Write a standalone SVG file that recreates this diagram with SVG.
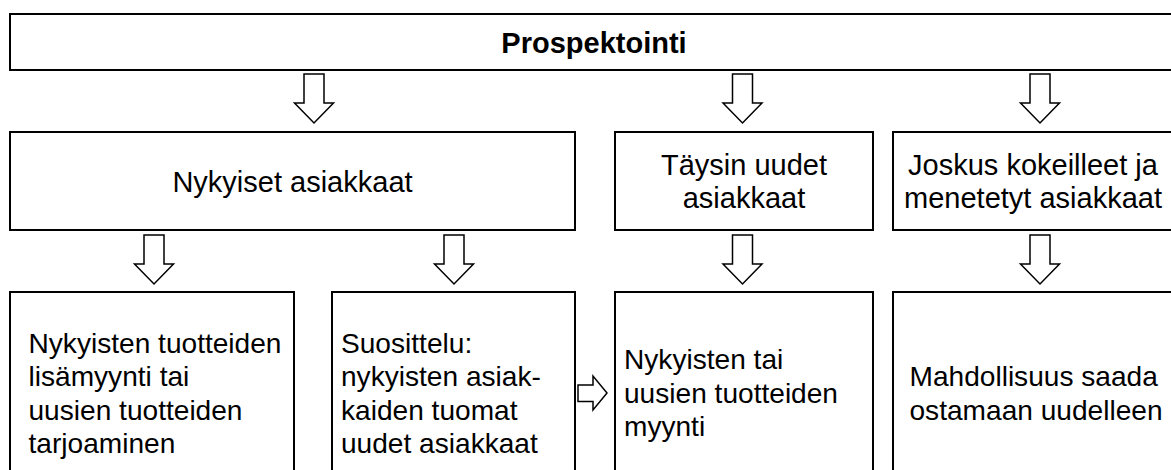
<svg xmlns="http://www.w3.org/2000/svg" width="1171" height="470" viewBox="0 0 1171 470">
<style>
.box{fill:#fff;stroke:#000;stroke-width:2}
.arr{fill:#fff;stroke:#000;stroke-width:1.5;stroke-linejoin:miter}
text{font-family:"Liberation Sans",Arial,sans-serif;font-size:29px;fill:#000}
.s{font-size:28.1px}
.c{text-anchor:middle}
.b{font-weight:bold}
</style>
<defs>
<path id="down" d="M-10,0 L10,0 L10,29 L19.5,29 L0,49 L-19.5,29 L-10,29 Z"/>
</defs>
<rect width="1171" height="470" fill="#fff"/>
<g id="n-prospektointi">
<rect class="box" x="10" y="14" width="1170" height="56"/>
<text class="c b" x="594" y="52.5">Prospektointi</text>
</g>
<g id="n-nykyiset">
<rect class="box" x="10" y="132" width="565" height="98"/>
<text class="c" x="292.5" y="191.5">Nykyiset asiakkaat</text>
</g>
<g id="n-taysin">
<rect class="box" x="615" y="132" width="258" height="98"/>
<text class="c" x="744" y="174.5">Täysin uudet</text>
<text class="c" x="744" y="208">asiakkaat</text>
</g>
<g id="n-joskus">
<rect class="box" x="893" y="132" width="282" height="98"/>
<text class="c" x="1033" y="174.5">Joskus kokeilleet ja</text>
<text class="c" x="1033" y="208">menetetyt asiakkaat</text>
</g>
<g id="n-lisamyynti">
<rect class="box" x="10" y="292" width="284" height="200"/>
<text class="s" x="28.5" y="352.5">Nykyisten tuotteiden</text>
<text class="s" x="28.5" y="386">lisämyynti tai</text>
<text class="s" x="28.5" y="419.5">uusien tuotteiden</text>
<text class="s" x="28.5" y="453">tarjoaminen</text>
</g>
<g id="n-suosittelu">
<rect class="box" x="332" y="292" width="243" height="200"/>
<text class="s" x="341" y="352.5">Suosittelu:</text>
<text class="s" x="341" y="386">nykyisten asiak-</text>
<text class="s" x="341" y="419.5">kaiden tuomat</text>
<text class="s" x="341" y="453">uudet asiakkaat</text>
</g>
<g id="n-myynti">
<rect class="box" x="615" y="292" width="258" height="200"/>
<text class="s" x="624" y="369.25">Nykyisten tai</text>
<text class="s" x="624" y="402.75">uusien tuotteiden</text>
<text class="s" x="624" y="436.25">myynti</text>
</g>
<g id="n-mahdollisuus">
<rect class="box" x="893" y="292" width="282" height="200"/>
<text class="s" x="909.5" y="386">Mahdollisuus saada</text>
<text class="s" x="909.5" y="419.5">ostamaan uudelleen</text>
</g>
<g id="connectors">
<use href="#down" class="arr" transform="translate(314,74)"/>
<use href="#down" class="arr" transform="translate(742.5,74)"/>
<use href="#down" class="arr" transform="translate(1040,74)"/>
<use href="#down" class="arr" transform="translate(154,235)"/>
<use href="#down" class="arr" transform="translate(454,235)"/>
<use href="#down" class="arr" transform="translate(742.5,235)"/>
<use href="#down" class="arr" transform="translate(1040,235)"/>
<path class="arr" d="M578,385 L593,385 L593,376 L607,393 L593,410 L593,401.5 L578,401.5 Z"/>
</g>
</svg>
